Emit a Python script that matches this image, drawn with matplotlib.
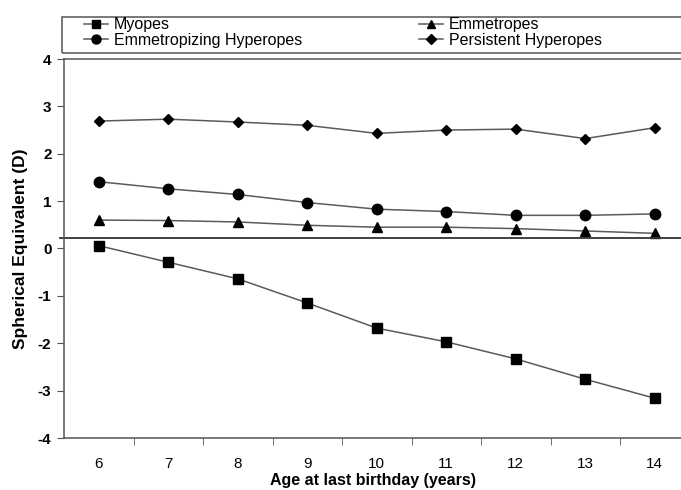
import numpy as np
import matplotlib.pyplot as plt
from matplotlib.lines import Line2D
from matplotlib.patches import Rectangle

# data
ages = [6, 7, 8, 9, 10, 11, 12, 13, 14]
myopes = [0.06, -0.29, -0.64, -1.15, -1.68, -1.97, -2.33, -2.76, -3.16]
emmetropes = [0.60, 0.59, 0.56, 0.49, 0.45, 0.45, 0.42, 0.37, 0.32]
emm_hyperopes = [1.41, 1.26, 1.14, 0.97, 0.83, 0.78, 0.70, 0.70, 0.73]
pers_hyperopes = [2.69, 2.73, 2.67, 2.60, 2.43, 2.50, 2.52, 2.32, 2.55]
ref_level = 0.22

plt.rcParams['font.family'] = ['Liberation Sans', 'DejaVu Sans']
plt.rcParams['axes.unicode_minus'] = False

W, H = 681, 490
fig = plt.figure(figsize=[W / 100, H / 100], dpi=100)
ax = fig.add_axes([64 / W, 1 - 438 / H, 1 - 64 / W, (438 - 59) / H])

line_col = '#5a5a5a'
kw = dict(color=line_col, lw=1.1, markerfacecolor='black', markeredgecolor='black')
ax.plot(ages, myopes, marker='s', ms=7, **kw)
ax.plot(ages, emmetropes, marker='^', ms=7, **kw)
ax.plot(ages, emm_hyperopes, marker='o', ms=7.5, **kw)
ax.plot(ages, pers_hyperopes, marker='D', ms=5.5, **kw)

ax.axhline(ref_level, xmin=-4 / 617, xmax=1, color='#333333', lw=1.3, clip_on=False)

ax.set_xlim(5.5, 5.5 + (W - 64) / 69.5)
ax.set_ylim(-4, 4)
ax.set_yticks(range(-4, 5))
ax.set_xticks(ages)
ax.set_xticks(np.array(ages[:-1]) + 0.5, minor=True)
ax.tick_params(axis='x', which='major', length=0, pad=14, labelsize=11)
ax.tick_params(axis='x', which='minor', length=5, direction='out', color='#555555')
ax.tick_params(axis='y', length=5, direction='out', labelsize=11, color='#555555', pad=4)
for lab in ax.get_yticklabels():
    lab.set_fontweight('bold')

for s in ['left', 'bottom', 'top']:
    ax.spines[s].set_color('#555555')
    ax.spines[s].set_linewidth(1.1)
ax.spines['right'].set_visible(False)

ax.set_xlabel('Age at last birthday (years)', fontsize=11.5, fontweight='bold', labelpad=1)
ax.set_ylabel('Spherical Equivalent (D)', fontsize=12.5, fontweight='bold', labelpad=7)

# legend: frame drawn separately, two single-column legends inside
fig.add_artist(Rectangle((62 / W, 1 - 53 / H), 1, 36 / H, transform=fig.transFigure,
                         fill=False, ec='#555555', lw=1.1))

leg_kw = dict(loc='upper left', fontsize=11.5, handlelength=1.5, handletextpad=0.35,
              labelspacing=0.0, borderpad=0, frameon=False, borderaxespad=0)
h1 = [Line2D([], [], marker='s', ms=6, **kw), Line2D([], [], marker='o', ms=6.5, **kw)]
h2 = [Line2D([], [], marker='^', ms=6, **kw), Line2D([], [], marker='D', ms=5, **kw)]
fig.legend(h1, ['Myopes', 'Emmetropizing Hyperopes'],
           bbox_to_anchor=(84 / W, 1 - 17.5 / H), **leg_kw)
fig.legend(h2, ['Emmetropes', 'Persistent Hyperopes'],
           bbox_to_anchor=(419 / W, 1 - 17.5 / H), **leg_kw)

fig.savefig('out.png', dpi=100)
